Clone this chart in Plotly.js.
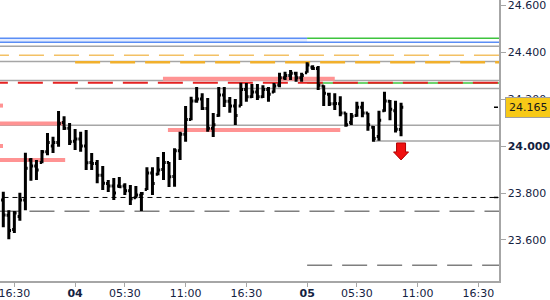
<!DOCTYPE html>
<html>
<head>
<meta charset="utf-8">
<script src="https://cdn.plot.ly/plotly-3.0.1.min.js"></script>
<style>html,body{margin:0;padding:0;background:#fff;}#chart{width:550px;height:300px;}</style>
</head>
<body>
<div id="chart"></div>
<script>
// ---- OHLC bars (one per bar index) ----
const opens  = [23.770,23.705,23.645,23.700,23.770,23.940,23.915,23.930,23.975,24.000,24.015,24.100,24.076,24.020,24.030,24.000,23.930,23.925,23.875,23.840,23.830,23.830,23.830,23.810,23.780,23.790,23.815,23.885,23.880,23.900,23.930,23.870,23.980,24.050,24.113,24.192,24.200,24.160,24.075,24.130,24.217,24.190,24.170,24.170,24.240,24.210,24.230,24.210,24.240,24.230,24.260,24.290,24.300,24.310,24.290,24.312,24.335,24.330,24.255,24.220,24.180,24.180,24.140,24.100,24.130,24.165,24.140,24.080,24.040,24.150,24.190,24.150,24.070];
const highs  = [23.805,23.727,23.723,23.801,23.971,23.949,23.940,23.983,24.055,24.039,24.149,24.127,24.098,24.072,24.061,24.068,23.970,23.940,23.915,23.855,23.864,23.868,23.842,23.834,23.830,23.804,23.910,23.910,23.953,23.974,23.932,23.990,24.061,24.170,24.210,24.251,24.225,24.204,24.140,24.251,24.251,24.208,24.200,24.269,24.268,24.264,24.264,24.259,24.251,24.268,24.312,24.316,24.323,24.316,24.312,24.356,24.344,24.340,24.259,24.227,24.225,24.212,24.141,24.140,24.188,24.188,24.141,24.085,24.150,24.231,24.196,24.193,24.184];
const lows   = [23.654,23.603,23.630,23.682,23.727,23.852,23.855,23.927,23.961,23.970,23.997,24.068,24.004,23.983,23.976,23.898,23.898,23.842,23.813,23.804,23.770,23.821,23.791,23.749,23.778,23.723,23.813,23.791,23.876,23.855,23.825,23.827,23.940,24.018,24.110,24.184,24.153,24.061,24.038,24.125,24.166,24.141,24.089,24.170,24.188,24.204,24.196,24.204,24.188,24.227,24.250,24.281,24.281,24.273,24.273,24.312,24.323,24.238,24.170,24.170,24.153,24.127,24.082,24.089,24.125,24.122,24.065,24.018,24.022,24.146,24.110,24.057,24.042];
const closes = [23.706,23.640,23.715,23.770,23.905,23.915,23.898,23.975,24.015,24.015,24.096,24.076,24.018,24.030,24.000,23.929,23.926,23.875,23.842,23.830,23.800,23.827,23.810,23.775,23.791,23.798,23.885,23.840,23.898,23.930,23.869,23.980,24.050,24.113,24.192,24.200,24.160,24.075,24.090,24.217,24.190,24.170,24.130,24.240,24.210,24.230,24.210,24.240,24.220,24.255,24.290,24.300,24.310,24.290,24.300,24.345,24.330,24.259,24.225,24.180,24.181,24.140,24.090,24.127,24.165,24.140,24.090,24.032,24.110,24.192,24.156,24.071,24.165];

// ---- time axis labels (at bar indices) ----
const timeTickIdx   = [2, 13, 22, 33, 44, 55, 64, 75, 86];
const timeTickText  = ['16:30', '<b>04</b>', '05:30', '11:00', '16:30', '<b>05</b>', '05:30', '11:00', '16:30'];

// ---- price axis ----
const priceTicks     = [23.6, 23.8, 24.0, 24.2, 24.4, 24.6];
const priceTickText  = ['23.600', '23.800', '<b>24.000</b>', '24.200', '24.400', '24.600'];

// ---- horizontal levels ----
const graySolidLevels = [24.424, 24.360, 24.279, 24.245, 24.088, 24.021];
const graySolidStart  = [null, null, null, 13, null, 67];
const blueLevels      = [24.458, 24.441];
const blueEnd         = [55, null];
const greenLevels     = [24.458, 24.268];
const greenStart      = [55, 55];
const orangeLevels    = [24.386, 24.356];
const orangeStart     = [-3.5, 13];
const redDashLevels   = [24.269];
const pinkLevels      = [24.286, 24.096, 24.068, 23.940, 24.172, 24.000];
const pinkStart       = [28.9, null, 29.8, null, null, null];
const pinkEnd         = [60.0, 10.8, 61.0, 11.2, -0.05, -0.05];
const blackDashLevels = [23.781];
const grayDashLevels  = [23.722, 23.492];
const grayDashStart   = [null, 55];

// ---- signal ----
const signalIdx   = 72;
const signalValue = 24.013;

const N = closes.length;
const idx = Array.from({length: N}, (_, i) => i);
const xRange = [-0.597, 89.73];
const yRange = [23.4255, 24.6213];
const XL = xRange[0] - 1, XR = xRange[1] + 1;

const shapes = [];
function hline(y, x0, x1, color, width, dash) {
  shapes.push({type: 'line', xref: 'x', yref: 'y', layer: 'below',
    x0: x0 == null ? XL : x0, x1: x1 == null ? XR : x1, y0: y, y1: y,
    line: {color: color, width: width, dash: dash || 'solid'}});
}
// blue band fill
shapes.push({type: 'rect', xref: 'x', yref: 'y', layer: 'below', x0: XL, x1: blueEnd[0],
  y0: blueLevels[1], y1: blueLevels[0], fillcolor: '#e4ecff', line: {width: 0}});
blueLevels.forEach((v, k) => hline(v, null, blueEnd[k], '#5b8ef5', 1.5));
greenLevels.forEach((v, k) => hline(v, greenStart[k], null, '#3ec43e', 1.5));
graySolidLevels.forEach((v, k) => hline(v, graySolidStart[k], null, '#a6a6a6', 1.5));
hline(orangeLevels[0], orangeStart[0], null, '#f3c165', 1.5, '25px,10px');
hline(orangeLevels[1], orangeStart[1], null, '#f1b02d', 2.5, '25px,10px');
pinkLevels.forEach((v, k) => hline(v, pinkStart[k], pinkEnd[k], '#ff9393', 4));
redDashLevels.forEach(v => hline(v, -3.7, null, '#e52222', 2, '25px,10px'));
blackDashLevels.forEach(v => hline(v, null, null, '#000000', 1, '5px,4px'));
grayDashLevels.forEach((v, k) => hline(v, grayDashStart[k], null, '#7f7f7f', 1.5, '25px,10px'));

// small black markers at price axis
[closes[N - 1], blackDashLevels[0]].forEach(v => shapes.push({type: 'line', xref: 'paper', yref: 'y',
  xsizemode: 'pixel', xanchor: 1, x0: -5, x1: -1, y0: v, y1: v, line: {color: '#000', width: 1.5}}));

// red down arrow
shapes.push({type: 'path', xref: 'x', yref: 'y', xsizemode: 'pixel', ysizemode: 'pixel',
  xanchor: signalIdx, yanchor: signalValue,
  path: 'M -4.5 0 L 4.5 0 L 4.5 -9 L 7.5 -9 L 0 -17 L -7.5 -9 L -4.5 -9 Z',
  fillcolor: '#f01010', line: {color: '#b00000', width: 1}});

const trace = {
  type: 'ohlc', x: idx, open: opens, high: highs, low: lows, close: closes,
  increasing: {line: {color: '#000', width: 3}},
  decreasing: {line: {color: '#000', width: 3}},
  tickwidth: 0.4, hoverinfo: 'skip', showlegend: false
};

const font = {family: 'DejaVu Sans, Verdana, sans-serif', size: 11, color: '#14223f'};
const layout = {
  width: 550, height: 300,
  margin: {l: 0, r: 51, t: 0, b: 19, pad: 0},
  paper_bgcolor: '#fff', plot_bgcolor: '#fff',
  font: font, showlegend: false,
  xaxis: {type: 'linear', range: xRange, rangeslider: {visible: false}, showgrid: false, zeroline: false,
    showline: true, linecolor: '#a6a6a6', linewidth: 1.5, ticks: 'outside', ticklen: 4, tickcolor: '#a6a6a6',
    tickvals: timeTickIdx, ticktext: timeTickText, tickfont: font, fixedrange: true,
    ticklabeloverflow: 'allow', ticklabelstandoff: -3},
  yaxis: {side: 'right', range: yRange, showgrid: false, zeroline: false,
    showline: true, linecolor: '#a6a6a6', linewidth: 1.5, ticks: 'outside', ticklen: 5, tickcolor: '#a6a6a6',
    tickvals: priceTicks, ticktext: priceTickText, tickfont: font, fixedrange: true,
    ticklabeloverflow: 'allow'},
  shapes: shapes,
  annotations: [{xref: 'paper', yref: 'y', x: 1, xshift: 6, xanchor: 'left', y: closes[N - 1], yanchor: 'middle',
    text: closes[N - 1].toFixed(3), showarrow: false, font: {family: font.family, size: 11, color: '#1a1a1a'},
    bgcolor: '#f7c917', bordercolor: '#a0a0a0', borderwidth: 1, borderpad: 3}]
};
Plotly.newPlot('chart', [trace], layout, {displayModeBar: false, staticPlot: true});
</script>
</body>
</html>
